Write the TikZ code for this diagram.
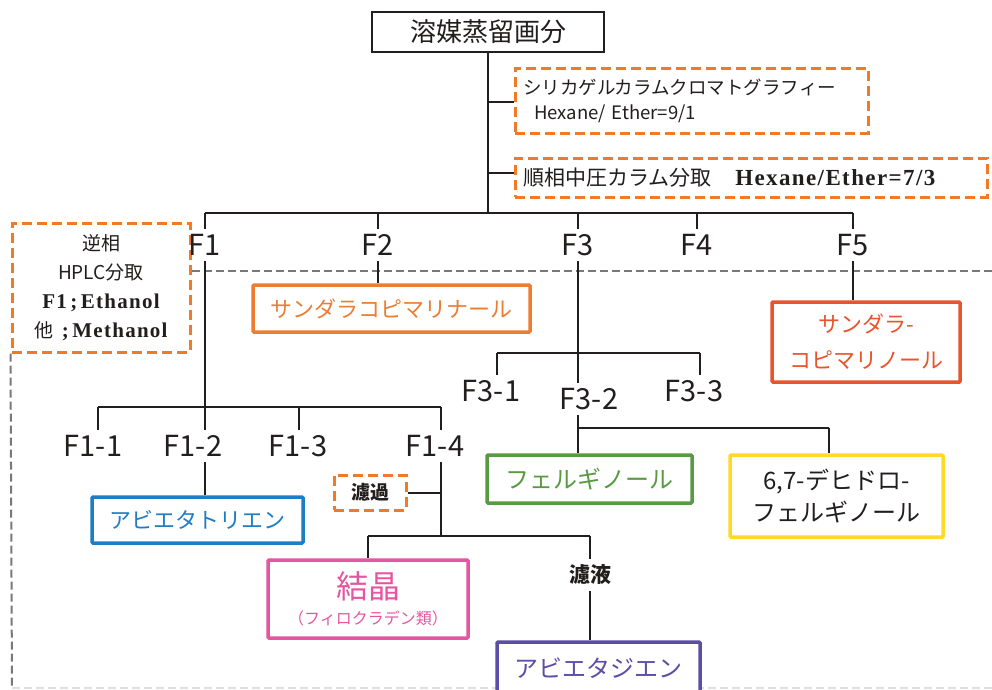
\documentclass[tikz,border=0pt]{standalone}
\usepackage{fontspec}
\setmainfont{Noto Sans CJK JP}
\newfontfamily\serifb{Liberation Serif}[LetterSpace=6]
\definecolor{linec}{RGB}{35,30,30}
\definecolor{dorange}{RGB}{240,122,40}
\definecolor{sporange}{RGB}{237,125,49}
\definecolor{redor}{RGB}{234,84,45}
\definecolor{fgreen}{RGB}{88,154,66}
\definecolor{fyellow}{RGB}{255,217,40}
\definecolor{fblue}{RGB}{30,125,195}
\definecolor{fpink}{RGB}{228,86,160}
\definecolor{fpurple}{RGB}{92,78,168}
\definecolor{gdash}{RGB}{120,120,120}
\begin{document}
\begin{tikzpicture}[x=1pt,y=-1pt,
  conn/.style={draw=linec, line width=2pt},
  lbl/.style={font=\fontsize{29}{30}\selectfont, text=linec, inner sep=5pt},
  cbox/.style={draw=#1, text=#1, line width=3.5pt, fill=white, rounded corners=1pt, inner sep=0pt, align=center},
  obox/.style={draw=dorange, dash pattern=on 10pt off 5pt, line width=3pt, fill=white, inner sep=0pt, text=linec},
  gline/.style={draw=gdash, dash pattern=on 8pt off 4pt, line width=2pt}
]
\useasboundingbox (0,0) rectangle (992,689);
\fill[white] (0,0) rectangle (992,689);

% ---------- top ----------
\node[draw=linec, line width=2.5pt, minimum width=232pt, minimum height=40pt, inner sep=0pt,
      font=\fontsize{26}{28}\selectfont, text=linec] (top) at (488,32) {溶媒蒸留画分};

\node[obox, minimum width=353pt, minimum height=65pt, text width=337pt, align=left,
      font=\fontsize{18.5}{25}\selectfont] (sil) at (691.5,100.5)
  {シリカゲルカラムクロマトグラフィー\\\hspace*{11pt}Hexane/ Ether=9/1};
\node[obox, minimum width=472pt, minimum height=39pt, text width=456pt, align=left,
      font=\fontsize{21}{24}\selectfont] (mpc) at (751,177.5)
  {順相中圧カラム分取\hspace{24pt}{\serifb\bfseries\fontsize{23}{24}\selectfont Hexane/Ether=7/3}};

\coordinate (mb) at (488,213);
\coordinate (t1) at (488,102);
\coordinate (t2) at (488,173);

% ---------- gray dashed frame ----------
\node[obox, minimum width=178pt, minimum height=129pt, align=center,
      font=\fontsize{19}{29}\selectfont] (hplc) at (101,287.5)
  {逆相\\HPLC分取\\{\serifb\bfseries\fontsize{21}{29}\selectfont F1\,;\,Ethanol}\\他\ \ {\serifb\bfseries\fontsize{21}{29}\selectfont ;\,Methanol}};
\coordinate (gend) at (992,271);
\coordinate (gbot) at (12,689);
\draw[gline] (hplc.east |- gend) -- (gend);
\draw[gline] (hplc.south west) -- (gbot);
\draw[draw=gdash!25, dash pattern=on 8pt off 4pt, line width=1.5pt] (12,688) -- (992,688);

% ---------- first level ----------
\node[lbl] (f1) at (205,245) {F1};
\node[lbl] (f2) at (378,245) {F2};
\node[lbl] (f3) at (578,245) {F3};
\node[lbl] (f4) at (697,245) {F4};
\node[lbl] (f5) at (853,245) {F5};

\draw[conn] (top.south) -- (mb);
\draw[conn] (t1) -- (t1 -| sil.west);
\draw[conn] (t2) -- (t2 -| mpc.west);
\draw[conn] (f1.north |- mb) -- (f5.north |- mb);
\foreach \n in {f1,f2,f3,f4,f5} \draw[conn] (\n.north |- mb) -- (\n.north);

% F2
\node[cbox=sporange, minimum width=277pt, minimum height=47pt, font=\fontsize{22}{24}\selectfont]
  (spn) at (391.5,308.5) {サンダラコピマリナール};
\draw[conn] (f2.south) -- (f2.south |- spn.north);

% F5
\node[cbox=redor, minimum width=188pt, minimum height=80pt, font=\fontsize{22}{36}\selectfont]
  (spl) at (866,342) {サンダラ-\\コピマリノール};
\draw[conn] (f5.south) -- (f5.south |- spl.north);

% F3
\coordinate (s3) at (578,353);
\coordinate (s3a) at (497,353);
\coordinate (s3c) at (700,353);
\node[lbl] (f31) at (491,391) {F3-1};
\node[lbl] (f32) at (589,399) {F3-2};
\node[lbl] (f33) at (694,391) {F3-3};
\draw[conn] (f3.south) -- (s3);
\draw[conn] (s3a) -- (s3c);
\draw[conn] (s3a) -- (s3a |- f31.north);
\draw[conn] (s3c) -- (s3c |- f33.north);
\draw[conn] (s3) -- (s3 |- f32.north);

\coordinate (s32) at (578,428);
\coordinate (s32r) at (829,428);
\node[cbox=fgreen, minimum width=205pt, minimum height=48pt, font=\fontsize{24}{26}\selectfont]
  (fer) at (589.5,479) {フェルギノール};
\node[cbox=fyellow, text=linec, minimum width=213pt, minimum height=82pt, font=\fontsize{24}{32}\selectfont]
  (dhf) at (836.5,496) {6,7-デヒドロ-\\フェルギノール};
\draw[conn] (f32.south -| s32) -- (s32) -- (s32r);
\draw[conn] (s32) -- (s32 |- fer.north);
\draw[conn] (s32r) -- (s32r |- dhf.north);

% F1
\coordinate (s1a) at (98,407);
\coordinate (s1b) at (205,407);
\coordinate (s1c) at (299,407);
\coordinate (s1d) at (441,407);
\node[lbl] (f11) at (93,446) {F1-1};
\node[lbl] (f12) at (193,446) {F1-2};
\node[lbl] (f13) at (298,446) {F1-3};
\node[lbl] (f14) at (435,446) {F1-4};
\draw[conn] (f1.south) -- (s1b);
\draw[conn] (s1a) -- (s1d);
\draw[conn] (s1a) -- (s1a |- f11.north);
\draw[conn] (s1b) -- (s1b |- f12.north);
\draw[conn] (s1c) -- (s1c |- f13.north);
\draw[conn] (s1d) -- (s1d |- f14.north);

\node[cbox=fblue, minimum width=211pt, minimum height=46pt, font=\fontsize{22}{24}\selectfont]
  (abt) at (197.5,520) {アビエタトリエン};
\draw[conn] (f12.south -| s1b) -- (s1b |- abt.north);

\coordinate (s4) at (441,536);
\coordinate (s4l) at (368,536);
\coordinate (s4r) at (590,536);
\node[obox, minimum width=72pt, minimum height=35pt, font=\bfseries\fontsize{19}{20}\selectfont]
  (roka) at (370,492.5) {濾過};
\draw[conn] (f14.south -| s1d) -- (s4);
\draw[conn] (s4l) -- (s4r);
\draw[conn] (roka.east) -- (roka.east -| s4);

\node[cbox=fpink, minimum width=200pt, minimum height=78pt, font=\fontsize{16}{18}\selectfont]
  (kes) at (368,599) {{\fontsize{32}{34}\selectfont 結晶}\\[8pt]（フィロクラデン類）};
\draw[conn] (s4l) -- (s4l |- kes.north);

\node[font=\bfseries\fontsize{21}{22}\selectfont, text=linec, inner sep=6pt] (roe) at (590,575) {濾液};
\node[cbox=fpurple, minimum width=203pt, minimum height=52pt, font=\fontsize{24}{26}\selectfont]
  (abd) at (598.5,668) {アビエタジエン};
\draw[conn] (s4r) -- (roe.north);
\draw[conn] (roe.south) -- (roe.south |- abd.north);
\end{tikzpicture}
\end{document}
